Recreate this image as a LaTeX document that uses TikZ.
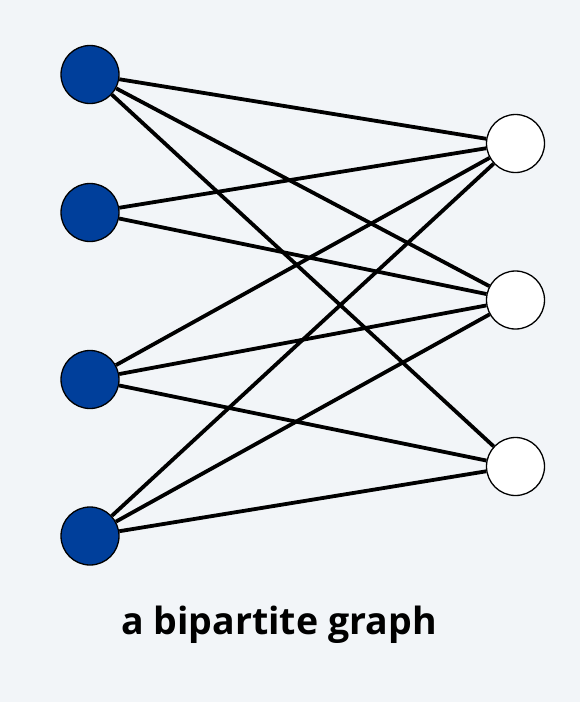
\documentclass[tikz,border=0pt]{standalone}
\usepackage{fontspec}
\setsansfont{Open Sans}
\definecolor{bgpaper}{RGB}{242,245,248}
\definecolor{leftblue}{RGB}{0,63,155}

\tikzset{
  vertex/.style={circle, draw=black, line width=1.3pt, inner sep=0pt, minimum size=58pt},
  leftvertex/.style={vertex, fill=leftblue},
  rightvertex/.style={vertex, fill=white},
  edge/.style={black, line width=3.8pt}
}

\begin{document}
\begin{tikzpicture}[x=1pt, y=-1pt]
\fill[bgpaper] (0,0) rectangle (580,702);
\useasboundingbox (0,0) rectangle (580,702);

% left side
\node[leftvertex] (l1) at (90,74.5) {};
\node[leftvertex] (l2) at (90,212.5) {};
\node[leftvertex] (l3) at (90,379.5) {};
\node[leftvertex] (l4) at (90,536) {};

% right side
\node[rightvertex] (r1) at (515.5,143.5) {};
\node[rightvertex] (r2) at (515.5,300) {};
\node[rightvertex] (r3) at (515.5,466.5) {};

\draw[edge] (l1) -- (r1);
\draw[edge] (l1) -- (r2);
\draw[edge] (l1) -- (r3);
\draw[edge] (l2) -- (r1);
\draw[edge] (l2) -- (r2);
\draw[edge] (l3) -- (r1);
\draw[edge] (l3) -- (r2);
\draw[edge] (l3) -- (r3);
\draw[edge] (l4) -- (r1);
\draw[edge] (l4) -- (r2);
\draw[edge] (l4) -- (r3);

\node[font=\sffamily\bfseries\fontsize{37.5}{42}\selectfont, anchor=base] (caption) at (279,634) {a bipartite graph};
\end{tikzpicture}
\end{document}
